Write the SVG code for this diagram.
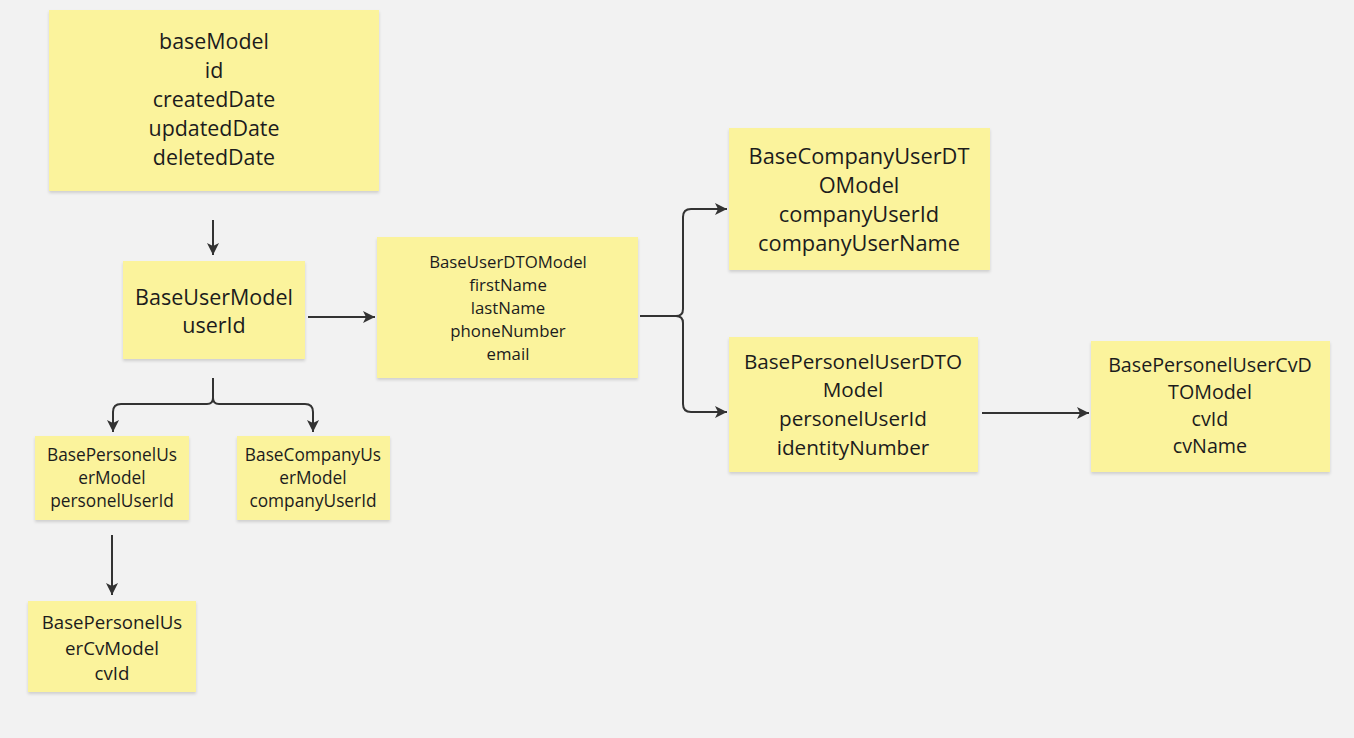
<svg xmlns="http://www.w3.org/2000/svg" width="1354" height="738" viewBox="0 0 1354 738">
<style>
.note{fill:#fbf39c;filter:url(#sh)}
.t{font-family:"Open Sans","Noto Sans",sans-serif;fill:#1c1c1c;text-anchor:middle;dominant-baseline:central}
.c{fill:none;stroke:#333;stroke-width:2;marker-end:url(#ah)}
.cn{fill:none;stroke:#333;stroke-width:2}
</style>
<defs>
<filter id="sh" x="-10%" y="-10%" width="120%" height="130%">
<feDropShadow dx="0" dy="2" stdDeviation="1.5" flood-color="#000" flood-opacity="0.15"/>
</filter>
<marker id="ah" markerUnits="userSpaceOnUse" markerWidth="14" markerHeight="14" viewBox="0 0 14 14" refX="13" refY="7" orient="auto">
<path d="M1,1 L13,7 L1,13 L4,7 Z" fill="#333"/>
</marker>
</defs>
<rect width="1354" height="738" fill="#f2f2f2"/>
<g id="connectors">
<path class="c" d="M213 220 V255"/>
<path class="c" d="M308 317 H375"/>
<path class="cn" d="M213 378 V398"/>
<path class="c" d="M213 398 Q213 404 207 404 H121 Q113 404 113 412 V432"/>
<path class="c" d="M213 398 Q213 404 219 404 H305 Q313 404 313 412 V432"/>
<path class="cn" d="M640 316 H676"/>
<path class="c" d="M676 316 Q683 316 683 309 V217 Q683 209 691 209 H727"/>
<path class="c" d="M676 316 Q683 316 683 323 V404 Q683 412 691 412 H727"/>
<path class="c" d="M982 413 H1089"/>
<path class="c" d="M112 535 V595"/>
</g>
<g id="baseModel">
<rect class="note" x="49" y="10" width="330" height="181"/>
<text class="t" font-size="21.4"><tspan x="214" y="40">baseModel</tspan><tspan x="214" y="69">id</tspan><tspan x="214" y="98">createdDate</tspan><tspan x="214" y="127">updatedDate</tspan><tspan x="214" y="156">deletedDate</tspan></text>
</g>
<g id="BaseUserModel">
<rect class="note" x="123" y="261" width="182" height="98"/>
<text class="t" font-size="21.5"><tspan x="214" y="296">BaseUserModel</tspan><tspan x="214" y="324">userId</tspan></text>
</g>
<g id="BaseUserDTOModel">
<rect class="note" x="377" y="237" width="261" height="141"/>
<text class="t" font-size="16.8"><tspan x="508" y="261">BaseUserDTOModel</tspan><tspan x="508" y="284">firstName</tspan><tspan x="508" y="307">lastName</tspan><tspan x="508" y="330">phoneNumber</tspan><tspan x="508" y="353">email</tspan></text>
</g>
<g id="BaseCompanyUserDTOModel">
<rect class="note" x="729" y="128" width="261" height="142"/>
<text class="t" font-size="21.8"><tspan x="859" y="155">BaseCompanyUserDT</tspan><tspan x="859" y="184">OModel</tspan><tspan x="859" y="213">companyUserId</tspan><tspan x="859" y="242">companyUserName</tspan></text>
</g>
<g id="BasePersonelUserDTOModel">
<rect class="note" x="729" y="337" width="249" height="135"/>
<text class="t" font-size="20.7"><tspan x="853" y="361">BasePersonelUserDTO</tspan><tspan x="853" y="389">Model</tspan><tspan x="853" y="418">personelUserId</tspan><tspan x="853" y="447">identityNumber</tspan></text>
</g>
<g id="BasePersonelUserCvDTOModel">
<rect class="note" x="1091" y="341" width="239" height="131"/>
<text class="t" font-size="19.7"><tspan x="1210" y="364">BasePersonelUserCvD</tspan><tspan x="1210" y="391">TOModel</tspan><tspan x="1210" y="418">cvId</tspan><tspan x="1210" y="445">cvName</tspan></text>
</g>
<g id="BasePersonelUserModel">
<rect class="note" x="35" y="436" width="154" height="84"/>
<text class="t" font-size="17.3"><tspan x="112" y="454">BasePersonelUs</tspan><tspan x="112" y="477">erModel</tspan><tspan x="112" y="500">personelUserId</tspan></text>
</g>
<g id="BaseCompanyUserModel">
<rect class="note" x="237" y="436" width="153" height="84"/>
<text class="t" font-size="17.3"><tspan x="313" y="454">BaseCompanyUs</tspan><tspan x="313" y="477">erModel</tspan><tspan x="313" y="500">companyUserId</tspan></text>
</g>
<g id="BasePersonelUserCvModel">
<rect class="note" x="28" y="601" width="168" height="91"/>
<text class="t" font-size="18.7"><tspan x="112" y="621">BasePersonelUs</tspan><tspan x="112" y="647">erCvModel</tspan><tspan x="112" y="672">cvId</tspan></text>
</g>
</svg>
